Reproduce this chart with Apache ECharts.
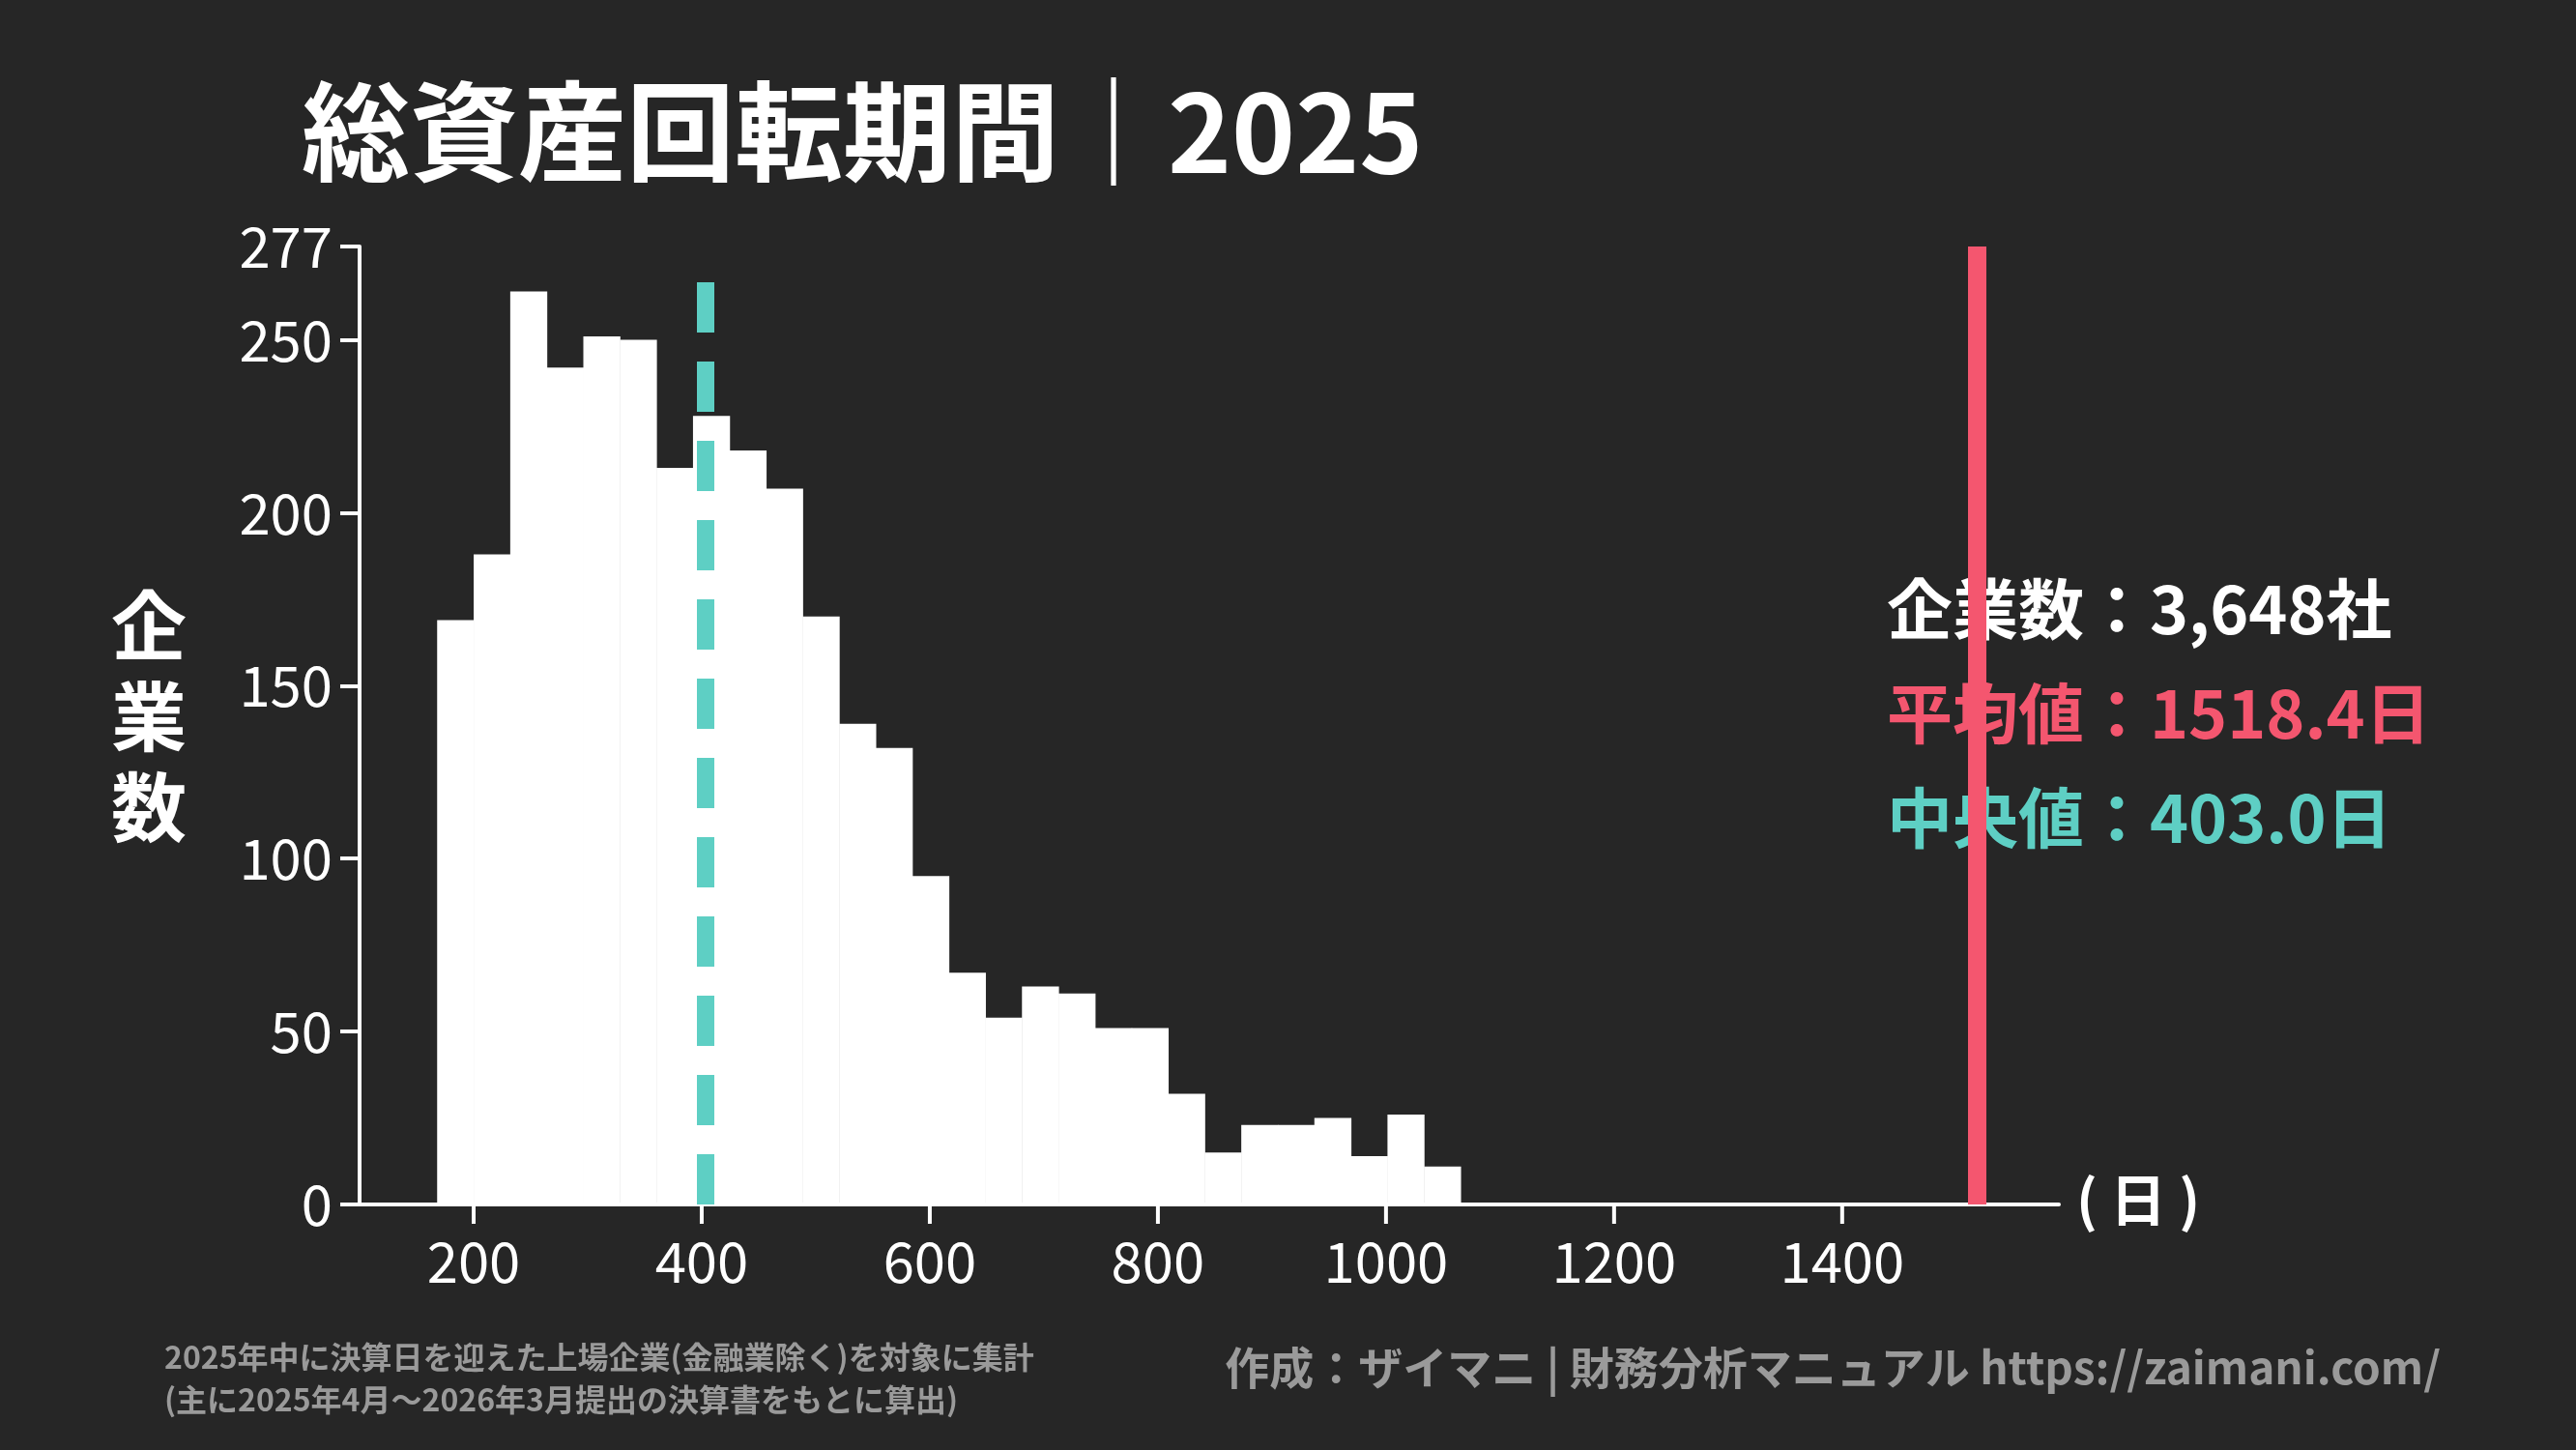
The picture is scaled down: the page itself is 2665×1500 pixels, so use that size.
<!DOCTYPE html>
<html><head><meta charset="utf-8">
<script src="https://cdn.jsdelivr.net/npm/echarts@6/dist/echarts.min.js"></script>
<style>html,body{margin:0;background:#262626}#c{width:2665px;height:1500px}</style>
</head><body><div id="c"></div>
<script>
const binStart = 168;
const binWidth = 32.05;
const counts = [169,188,264,242,251,250,213,228,218,207,170,139,132,95,67,54,63,61,51,51,32,15,23,23,25,14,26,11];
const xTicks = [200,400,600,800,1000,1200,1400];
const meanValue = 1518.4;
const medianValue = 403.0;
const statsText = ['企業数：3,648社','平均値：1518.4日','中央値：403.0日'];

const F = '"Noto Sans CJK JP","Noto Sans",sans-serif';
const bars = counts.map((c,i)=>[binStart+i*binWidth, binStart+(i+1)*binWidth, c]);
const chart = echarts.init(document.getElementById('c'));
chart.setOption({
  backgroundColor:'#262626',
  animation:false,
  grid:{left:372,right:535,top:255,bottom:254},
  xAxis:{type:'value',min:100,max:1590,interval:100,
    axisLine:{lineStyle:{color:'#fff',width:4}},axisTick:{show:false},splitLine:{show:false},
    axisLabel:{color:'#fff',fontSize:58,fontFamily:F,margin:30,formatter:v=>xTicks.includes(v)?String(v):''}},
  yAxis:{type:'value',min:0,max:277,interval:50,
    axisLine:{show:true,lineStyle:{color:'#fff',width:4}},axisTick:{show:true,length:20,lineStyle:{width:4,color:'#fff'}},
    splitLine:{show:false},axisLabel:{color:'#fff',fontSize:58,fontFamily:F,margin:28}},
  series:[
    {type:'custom',data:bars,renderItem:(p,api)=>{
      const a=api.coord([api.value(0),api.value(2)]),b=api.coord([api.value(1),0]);
      return {type:'rect',shape:{x:a[0],y:a[1],width:b[0]-a[0]+0.5,height:b[1]-a[1]},style:{fill:'#fff'}};
    }, z:2},
    {type:'custom',data:xTicks.map(v=>[v]),renderItem:(p,api)=>{
      const a=api.coord([api.value(0),0]);
      return {type:'line',shape:{x1:a[0],y1:a[1],x2:a[0],y2:a[1]+20},style:{stroke:'#fff',lineWidth:4}};
    }},
    {type:'line',data:[],markLine:{symbol:'none',silent:true,label:{show:false},data:[
      [{coord:[meanValue,0]},{coord:[meanValue,277]}]],lineStyle:{color:'#f4566f',width:19,type:'solid'}}, z:5},
    {type:'line',data:[],markLine:{symbol:'none',silent:true,label:{show:false},data:[
      [{coord:[medianValue,0]},{coord:[medianValue,268]}]],lineStyle:{color:'#5ecfc4',width:18,type:[52,30]}}, z:5}
  ],
  graphic:[
    {type:'text',left:312,top:80,style:{text:'総資産回転期間｜2025',fill:'#fff',font:'bold 112px '+F}},
    {type:'text',left:115,top:600,style:{text:'企\n業\n数',fill:'#fff',font:'bold 78px '+F,lineHeight:94}},
    {type:'text',left:1952,top:596,style:{text:statsText[0],fill:'#fff',font:'bold 68px '+F}},
    {type:'text',left:1952,top:704,style:{text:statsText[1],fill:'#f4566f',font:'bold 68px '+F}},
    {type:'text',left:1952,top:812,style:{text:statsText[2],fill:'#5ecfc4',font:'bold 68px '+F}},
    {type:'text',left:2148,top:1212,style:{text:'( 日 )',fill:'#fff',font:'bold 58px '+F}},
    {type:'text',left:170,top:1382,style:{text:'2025年中に決算日を迎えた上場企業(金融業除く)を対象に集計\n(主に2025年4月〜2026年3月提出の決算書をもとに算出)',fill:'#9a9a9a',font:'bold 32px '+F,lineHeight:44}},
    {type:'text',right:140,top:1392,style:{text:'作成：ザイマニ | 財務分析マニュアル https://zaimani.com/',fill:'#9a9a9a',font:'bold 46px '+F}}
  ]
});
</script></body></html>
